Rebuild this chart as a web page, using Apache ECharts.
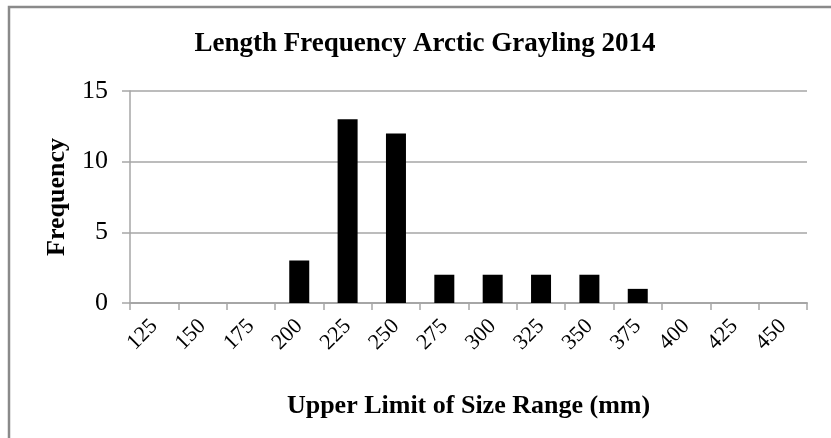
<!DOCTYPE html>
<html><head><meta charset="utf-8">
<script src="https://cdn.jsdelivr.net/npm/echarts@6/dist/echarts.min.js"></script>
<style>html,body{margin:0;padding:0;background:#fff}#c{width:831px;height:438px}</style>
</head><body><div id="c"></div>
<script>
const categories = ['125','150','175','200','225','250','275','300','325','350','375','400','425','450'];
const frequency = [0,0,0,3,13,12,2,2,2,2,1,0,0,0];
const yTicks = [0,5,10,15];
const titleText = 'Length Frequency Arctic Grayling 2014';
const xName = 'Upper Limit of Size Range (mm)';
const yName = 'Frequency';

const serif = '"Liberation Serif","Times New Roman",serif';
const chart = echarts.init(document.getElementById('c'));
chart.setOption({
  animation: false,
  backgroundColor: '#fff',
  title: {
    text: titleText, left: 420, top: 26, textAlign: 'center',
    textStyle: {fontFamily: serif, fontWeight: 'bold', fontSize: 27, color: '#000'}
  },
  graphic: [{
    type: 'rect', shape: {x: 9, y: 7, width: 840, height: 450},
    style: {fill: 'none', stroke: '#8a8a8a', lineWidth: 2.5}, silent: true
  }],
  grid: {left: 130, right: 24, top: 91, bottom: 135},
  xAxis: {
    type: 'category', data: categories,
    name: xName, nameLocation: 'middle', nameGap: 90,
    nameTextStyle: {fontFamily: serif, fontWeight: 'bold', fontSize: 26, color: '#000'},
    axisLine: {lineStyle: {color: '#a6a6a6', width: 2}},
    axisTick: {show: true, length: 7, lineStyle: {color: '#a6a6a6', width: 1.5}},
    axisLabel: {rotate: 45, fontFamily: serif, fontSize: 22, color: '#000', margin: 20, interval: 0}
  },
  yAxis: {
    type: 'value', min: yTicks[0], max: yTicks[yTicks.length - 1], interval: 5,
    name: yName, nameLocation: 'middle', nameGap: 60, nameRotate: 90,
    nameTextStyle: {fontFamily: serif, fontWeight: 'bold', fontSize: 26, color: '#000'},
    axisLine: {show: true, lineStyle: {color: '#a6a6a6', width: 1.5}},
    axisTick: {show: true, length: 8, lineStyle: {color: '#a6a6a6', width: 1.5}},
    axisLabel: {fontFamily: serif, fontSize: 26, color: '#000', margin: 22},
    splitLine: {lineStyle: {color: '#a6a6a6', width: 1.5}}
  },
  series: [{
    type: 'bar', data: frequency, barWidth: 20,
    itemStyle: {color: '#000'}
  }]
});
</script></body></html>
